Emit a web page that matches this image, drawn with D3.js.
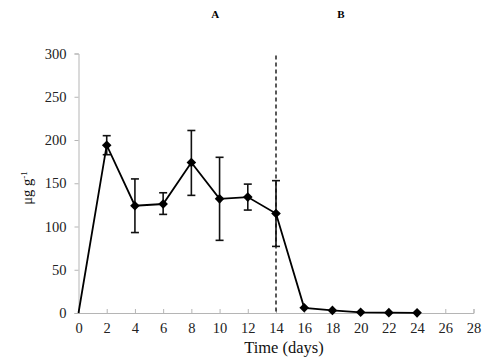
<!DOCTYPE html>
<html><head><meta charset="utf-8">
<script src="https://cdn.jsdelivr.net/npm/d3@7"></script>
<style>body{margin:0;background:#fff}svg{display:block}svg text{font-family:"Liberation Serif","Times New Roman",serif}</style>
</head><body>
<svg id="c" width="500" height="363"></svg>
<script>
const days = [0, 2, 4, 6, 8, 10, 12, 14, 16, 18, 20, 22, 24];
const values = [0, 194, 124, 126, 174, 132, 134, 115, 6, 3, 0.8, 0.4, 0.2];
const errUpper = [null, 205, 155, 139, 211, 180, 149, 153, null, null, null, null, null];
const errLower = [null, 183, 93, 114, 136, 84, 119, 77, null, null, null, null, null];
const xTicks = [0, 2, 4, 6, 8, 10, 12, 14, 16, 18, 20, 22, 24, 26, 28];
const yTicks = [0, 50, 100, 150, 200, 250, 300];
const phaseLabels = ["A", "B"];
const phaseLabelX = [9.7, 18.6];
const dividerDay = 14;

const svg = d3.select("#c");
const x = d3.scaleLinear().domain([0, 28]).range([78.5, 473.5]);
const y = d3.scaleLinear().domain([0, 300]).range([313, 53.5]);
const font = "'Liberation Serif','Times New Roman',serif";
const axisCol = "#b5b5b5";

// axes
const xa = svg.append("g").attr("transform", `translate(0,${y(0)})`)
  .call(d3.axisBottom(x).tickValues(xTicks).tickSizeInner(-4).tickSizeOuter(-4).tickPadding(10));
xa.attr("font-family", null).attr("font-size", null);
xa.select(".domain").attr("stroke", axisCol);
xa.selectAll(".tick line").attr("stroke", axisCol);
xa.selectAll("text").style("font-family", font).style("font-size", "14.5px").attr("fill", "#222");

const ya = svg.append("g").attr("transform", `translate(${x(0)},0)`)
  .call(d3.axisLeft(y).tickValues(yTicks).tickSizeInner(4).tickSizeOuter(4).tickPadding(8));
ya.attr("font-family", null).attr("font-size", null);
ya.select(".domain").attr("stroke", axisCol);
ya.selectAll(".tick line").attr("stroke", axisCol);
ya.selectAll("text").style("font-family", font).style("font-size", "14.5px").attr("fill", "#222");

// divider
svg.append("line").attr("x1", x(dividerDay)).attr("x2", x(dividerDay))
  .attr("y1", y(300) + 2).attr("y2", y(0))
  .attr("stroke", "#222").attr("stroke-width", 1.5).attr("stroke-dasharray", "4,3");

// error bars
const eb = days.map((d, i) => ({d, u: errUpper[i], l: errLower[i]})).filter(e => e.u != null);
const ge = svg.append("g").attr("stroke", "#111").attr("stroke-width", 1.6);
eb.forEach(e => {
  ge.append("line").attr("x1", x(e.d)).attr("x2", x(e.d)).attr("y1", y(e.u)).attr("y2", y(e.l));
  ge.append("line").attr("x1", x(e.d) - 4).attr("x2", x(e.d) + 4).attr("y1", y(e.u)).attr("y2", y(e.u));
  ge.append("line").attr("x1", x(e.d) - 4).attr("x2", x(e.d) + 4).attr("y1", y(e.l)).attr("y2", y(e.l));
});

// line
const pts = days.map((d, i) => [d, values[i]]);
svg.append("path").datum(pts)
  .attr("d", d3.line().x(p => x(p[0])).y(p => y(p[1])))
  .attr("fill", "none").attr("stroke", "#000").attr("stroke-width", 1.8);

// markers
svg.append("g").selectAll("path").data(pts.slice(1)).join("path")
  .attr("transform", p => `translate(${x(p[0])},${y(p[1])}) rotate(45)`)
  .attr("d", "M-3.4,-3.4H3.4V3.4H-3.4Z").attr("fill", "#000");

// phase labels
svg.append("g").selectAll("text").data(phaseLabels).join("text")
  .attr("x", (t, i) => x(phaseLabelX[i])).attr("y", 18)
  .attr("text-anchor", "middle").style("font-family", font)
  .attr("font-weight", "bold").style("font-size", "11px").text(t => t);

// axis titles
svg.append("text").attr("x", 284).attr("y", 353).attr("text-anchor", "middle")
  .style("font-family", font).style("font-size", "16.5px").attr("fill", "#111").text("Time (days)");

const yl = svg.append("text").attr("transform", "translate(32,188) rotate(-90)")
  .attr("text-anchor", "middle").style("font-family", font).style("font-size", "14.5px").attr("fill", "#111");
yl.append("tspan").text("μg g");
yl.append("tspan").attr("dy", -5).style("font-size", "9px").text("-1");
</script>
</body></html>
